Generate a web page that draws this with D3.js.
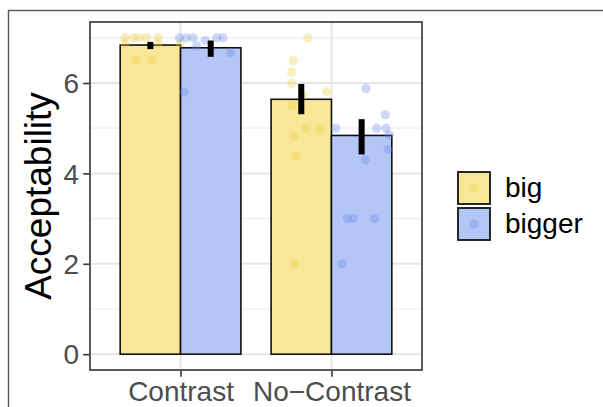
<!DOCTYPE html>
<html>
<head>
<meta charset="utf-8">
<script src="https://cdn.jsdelivr.net/npm/d3@7"></script>
<style>
  body { margin: 0; background: #fff; }
  svg { display: block; font-family: "Liberation Sans", Arial, sans-serif; }
</style>
</head>
<body>
<svg id="chart" width="603" height="407"></svg>
<script>
// Barras de média + pontos por sujeito (jitter) + barras de erro.
const conditions = ["Contrast", "No\u2212Contrast"];
const groups = ["big", "bigger"];
const meanBig = [6.84, 5.64];
const meanBigger = [6.78, 4.84];
const errLowBig = [6.75, 5.31];
const errHighBig = [6.91, 5.98];
const errLowBigger = [6.58, 4.42];
const errHighBigger = [6.94, 5.20];
const yTicks = [0, 2, 4, 6];
const yMinor = [1, 3, 5, 7];

// [valor, deslocamento horizontal do jitter em unidades de categoria]
const ptsContrastBig = [[7, -0.168], [7, -0.113], [7, -0.075], [7, -0.025], [7, 0.052],
  [6.88, -0.168], [6.88, 0.052], [6.5, -0.097], [6.5, 0.009], [6.88, 0.196]];
const ptsContrastBigger = [[7, -0.208], [7, -0.163], [7, -0.117], [6.82, -0.093], [6.94, -0.038],
  [7, 0.040], [7, 0.081], [6.67, 0.132], [5.8, -0.177]];
const ptsNoContrastBig = [[7, 0.042], [6.49, -0.053], [6.24, -0.064], [5.99, -0.064], [5.81, 0.168],
  [5.73, 0.011], [5.51, -0.064], [4.99, 0.029], [4.99, 0.124], [4.81, -0.048], [4.38, -0.037], [2, -0.046]];
const ptsNoContrastBigger = [[5.0, -0.172], [5.88, 0.029], [5.0, 0.100], [5.3, 0.157], [5.0, 0.162],
  [4.86, 0.183], [4.53, 0.177], [4.3, 0.025], [3, -0.095], [3, -0.055], [3, 0.084], [2, -0.130]];

const fills = { big: "#f7e797", bigger: "#b4c6f5" };
const pointCols = { big: "#ecca36", bigger: "#6688ee" };

const svg = d3.select("#chart");
const panel = { left: 90, right: 422, top: 22, bottom: 370 };

// Moldura externa (recortada): só as bordas superior e esquerda aparecem
svg.append("rect").attr("x", 8.5).attr("y", 10.5).attr("width", 700).attr("height", 500)
  .attr("fill", "none").attr("stroke", "#555").attr("stroke-width", 1.4);

// Escala discreta à la ggplot: categorias em 1 e 2, expansão de 0.6
const x = d3.scaleLinear().domain([0.4, 2.6]).range([panel.left, panel.right]);
const y = d3.scaleLinear().domain([-0.35, 7.35]).range([panel.bottom, panel.top]);
const dodge = { big: -0.2, bigger: 0.2 };
const barW = 0.4;

const g = svg.append("g");

// grades
g.selectAll(".minor").data(yMinor).join("line")
  .attr("x1", panel.left).attr("x2", panel.right)
  .attr("y1", (d) => y(d)).attr("y2", (d) => y(d))
  .attr("stroke", "#ececec").attr("stroke-width", 1.2);
g.selectAll(".major").data(yTicks).join("line")
  .attr("x1", panel.left).attr("x2", panel.right)
  .attr("y1", (d) => y(d)).attr("y2", (d) => y(d))
  .attr("stroke", "#e6e6e6").attr("stroke-width", 2);
g.selectAll(".vmajor").data(conditions).join("line")
  .attr("x1", (d, i) => x(i + 1)).attr("x2", (d, i) => x(i + 1))
  .attr("y1", panel.top).attr("y2", panel.bottom)
  .attr("stroke", "#e6e6e6").attr("stroke-width", 2);

// barras
const bars = [];
conditions.forEach((c, i) => {
  bars.push({ g: "big", i, mean: meanBig[i], lo: errLowBig[i], hi: errHighBig[i] });
  bars.push({ g: "bigger", i, mean: meanBigger[i], lo: errLowBigger[i], hi: errHighBigger[i] });
});
g.selectAll(".bar").data(bars).join("rect")
  .attr("x", (d) => x(d.i + 1 + dodge[d.g] - barW / 2))
  .attr("width", (d) => x(barW) - x(0))
  .attr("y", (d) => y(d.mean))
  .attr("height", (d) => y(0) - y(d.mean))
  .attr("fill", (d) => fills[d.g])
  .attr("stroke", "#111").attr("stroke-width", 1.6);

// pontos
const pts = [];
[[ptsContrastBig, 0, "big"], [ptsContrastBigger, 0, "bigger"],
 [ptsNoContrastBig, 1, "big"], [ptsNoContrastBigger, 1, "bigger"]].forEach(([arr, i, grp]) => {
  arr.forEach(([v, j]) => pts.push({ v, j, i, g: grp }));
});
g.selectAll(".pt").data(pts).join("circle")
  .attr("cx", (d) => x(d.i + 1 + dodge[d.g] + d.j))
  .attr("cy", (d) => y(d.v))
  .attr("r", 4.6)
  .attr("fill", (d) => pointCols[d.g]).attr("fill-opacity", 0.33);

// barras de erro
g.selectAll(".err").data(bars).join("line")
  .attr("x1", (d) => x(d.i + 1 + dodge[d.g])).attr("x2", (d) => x(d.i + 1 + dodge[d.g]))
  .attr("y1", (d) => y(d.lo)).attr("y2", (d) => y(d.hi))
  .attr("stroke", "#000").attr("stroke-width", 6);

// borda do painel
svg.append("rect")
  .attr("x", panel.left).attr("y", panel.top)
  .attr("width", panel.right - panel.left).attr("height", panel.bottom - panel.top)
  .attr("fill", "none").attr("stroke", "#333").attr("stroke-width", 1.6);

// eixos
const yAxis = svg.append("g").attr("transform", `translate(${panel.left - 0.8},0)`)
  .call(d3.axisLeft(y).tickValues(yTicks).tickSize(6).tickPadding(4).tickFormat(d3.format("d")));
yAxis.select(".domain").remove();
yAxis.selectAll("line").attr("stroke", "#333").attr("stroke-width", 1.6);
yAxis.selectAll("text").attr("fill", "#4d4d4d").style("font-size", "28px")
  .attr("dy", "0.35em");

const xAxis = svg.append("g").attr("transform", `translate(0,${panel.bottom + 0.8})`)
  .call(d3.axisBottom(d3.scalePoint().domain(conditions).range([x(1), x(2)]))
    .tickSize(6).tickPadding(4));
xAxis.select(".domain").remove();
xAxis.selectAll("line").attr("stroke", "#333").attr("stroke-width", 1.6);
xAxis.selectAll("text").attr("fill", "#4d4d4d").style("font-size", "28px")
  .attr("dy", "0.71em");

// título do eixo Y
svg.append("text")
  .attr("transform", `translate(51,${(panel.top + panel.bottom) / 2}) rotate(-90)`)
  .attr("text-anchor", "middle").style("font-size", "37px").attr("fill", "#000")
  .text("Acceptability");

// legenda
const leg = svg.append("g").attr("transform", "translate(457,171)");
groups.forEach((grp, k) => {
  const row = leg.append("g").attr("transform", `translate(0,${k * 36})`);
  row.append("rect").attr("x", 1).attr("y", 1).attr("width", 32).attr("height", 32)
    .attr("fill", fills[grp]).attr("stroke", "#111").attr("stroke-width", 1.8);
  row.append("circle").attr("cx", 17).attr("cy", 17).attr("r", 4.6)
    .attr("fill", pointCols[grp]).attr("fill-opacity", 0.33);
  row.append("text").attr("x", 48).attr("y", 26)
    .style("font-size", "28px").attr("fill", "#000").text(grp);
});
</script>
</body>
</html>
